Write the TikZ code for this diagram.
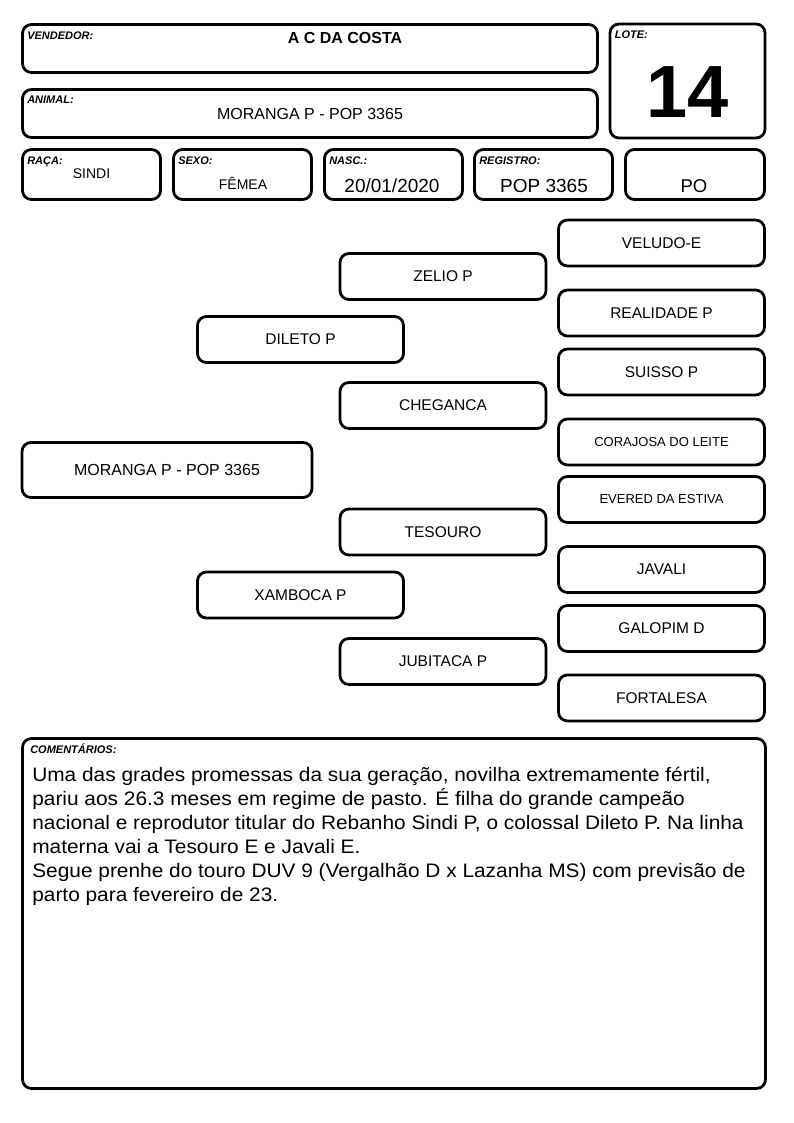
\documentclass[tikz,border=0pt]{standalone}
\usepackage{fontspec}
\setmainfont{Liberation Sans}
\newfontfamily\notefont[FakeStretch=1.07]{Liberation Sans}
\usetikzlibrary{calc,positioning}

\begin{document}
\begin{tikzpicture}[
    x=1pt, y=-1pt,
    box/.style={draw, rounded corners=9pt, line width=2.8pt, inner sep=0pt},
    hdrbox/.style={box, minimum width=575pt, minimum height=48pt},
    infobox/.style={box, minimum width=138pt, minimum height=50pt},
    pedbox/.style={box, minimum width=206pt, minimum height=46pt, font=\fontsize{15.5}{18}\selectfont},
    tag/.style={anchor=base west, inner sep=0pt, font=\fontsize{11}{12}\selectfont\bfseries\itshape},
    val/.style={anchor=base, inner sep=0pt, font=\fontsize{19}{22}\selectfont}
  ]
  \useasboundingbox (0,0) rectangle (794,1123);

  % header
  \node[hdrbox] (vend) at (310,48.5) {};
  \node[hdrbox, font=\fontsize{16}{18}\selectfont] (anim) at (310,113.5) {MORANGA P - POP 3365};
  \node[box, minimum width=155pt, minimum height=114pt] (lote) at (687.5,81) {};
  \node[tag] at ($(vend.north west)+(6,16)$) {VENDEDOR:};
  \node[tag] at ($(anim.north west)+(6,15)$) {ANIMAL:};
  \node[tag] at ($(lote.north west)+(6,16)$) {LOTE:};
  \node[val, font=\fontsize{16}{18}\selectfont\bfseries] (vendval) at ($(vend.north)+(35,20)$) {A C DA COSTA};
  \node[val, font=\fontsize{74}{80}\selectfont\bfseries] (loteval) at ($(lote.north)+(0.5,95)$) {14};

  % dados
  \node[infobox] (raca) at (91.5,174.5) {};
  \node[infobox] (sexo) at (242.5,174.5) {};
  \node[infobox] (nasc) at (393.5,174.5) {};
  \node[infobox] (regi) at (543.5,174.5) {};
  \node[infobox, minimum width=139pt] (po) at (695,174.5) {};
  \node[tag] at ($(raca.north west)+(6,16)$) {RAÇA:};
  \node[tag] at ($(sexo.north west)+(6,16)$) {SEXO:};
  \node[tag] at ($(nasc.north west)+(6,16)$) {NASC.:};
  \node[tag] at ($(regi.north west)+(6,16)$) {REGISTRO:};
  \node[val, font=\fontsize{14}{16}\selectfont] (racaval) at ($(raca.north)+(0,30)$) {SINDI};
  \node[val, font=\fontsize{14}{16}\selectfont] (sexoval) at ($(sexo.north)+(0.5,41)$) {FÊMEA};
  \node[val] (nascval) at ($(nasc.north)+(-1.5,44)$) {20/01/2020};
  \node[val] (regival) at ($(regi.north)+(0.5,44)$) {POP 3365};
  \node[val, font=\fontsize{18.5}{22}\selectfont] (poval) at ($(po.north)+(-1,44)$) {PO};

  % genealogia
  \node[box, minimum width=290pt, minimum height=55pt, font=\fontsize{16}{18}\selectfont] (animal) at (167,470) {MORANGA P - POP 3365};
  \node[pedbox] (pai) at (300.5,339.5) {DILETO P};
  \node[pedbox] (mae) at (300.5,595) {XAMBOCA P};
  \node[pedbox] (avop) at (443,276.5) {ZELIO P};
  \node[pedbox] (avap) at (443,405.5) {CHEGANCA};
  \node[pedbox] (avom) at (443,532) {TESOURO};
  \node[pedbox] (avam) at (443,661.5) {JUBITACA P};
  \node[pedbox] (b1) at (661.5,243) {VELUDO-E};
  \node[pedbox] (b2) at (661.5,313) {REALIDADE P};
  \node[pedbox] (b3) at (661.5,372) {SUISSO P};
  \node[pedbox, font=\fontsize{13}{15}\selectfont] (b4) at (661.5,442) {CORAJOSA DO LEITE};
  \node[pedbox, font=\fontsize{13}{15}\selectfont] (b5) at (661.5,499.5) {EVERED DA ESTIVA};
  \node[pedbox] (b6) at (661.5,569.5) {JAVALI};
  \node[pedbox] (b7) at (661.5,628.5) {GALOPIM D};
  \node[pedbox] (b8) at (661.5,698) {FORTALESA};

  % comentarios
  \node[box, minimum width=743pt, minimum height=350pt] (coment) at (394,913.5) {};
  \node[tag] at ($(coment.north west)+(9,16)$) {COMENTÁRIOS:};
  \node[anchor=north west, inner sep=0pt, align=left, font=\notefont\fontsize{19.5}{24}\selectfont] (comentval) at ($(coment.north west)+(11,30)$) {Uma das grades promessas da sua geração, novilha extremamente fértil,\\
    pariu aos 26.3 meses em regime de pasto. É filha do grande campeão\\
    nacional e reprodutor titular do Rebanho Sindi P, o colossal Dileto P. Na linha\\
    materna vai a Tesouro E e Javali E.\\
    Segue prenhe do touro DUV 9 (Vergalhão D x Lazanha MS) com previsão de\\
    parto para fevereiro de 23.};
\end{tikzpicture}
\end{document}
